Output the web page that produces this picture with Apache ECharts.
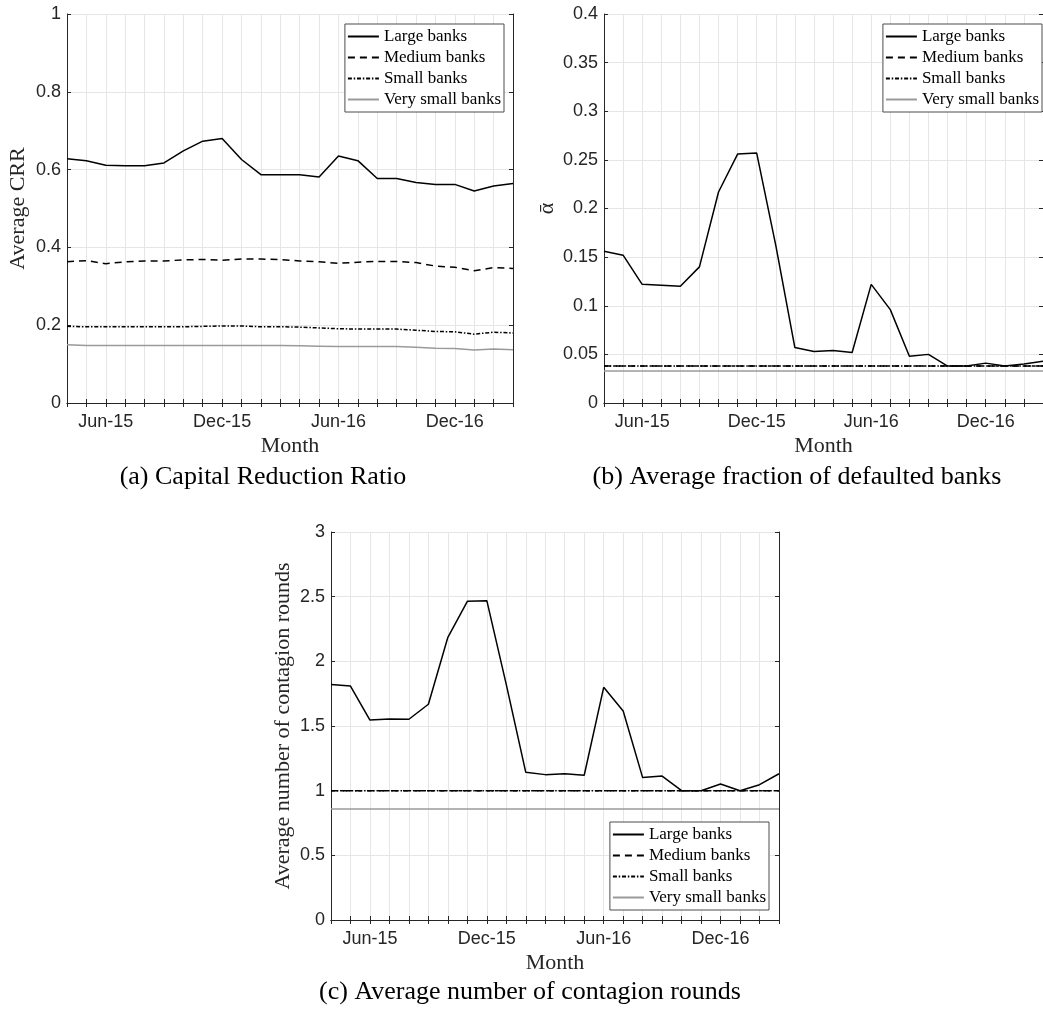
<!DOCTYPE html>
<html>
<head>
<meta charset="utf-8">
<title>Bank contagion simulation by month</title>
<script src="https://cdn.jsdelivr.net/npm/echarts@6/dist/echarts.min.js"></script>
<style>
  html, body { margin: 0; padding: 0; background: #ffffff; }
  #chart { width: 1043px; height: 1013px; }
</style>
</head>
<body>
<div id="chart"></div>
<script>
// Monthly observations, April 2015 to March 2017
const months = ['Apr-15','May-15','Jun-15','Jul-15','Aug-15','Sep-15','Oct-15','Nov-15','Dec-15',
  'Jan-16','Feb-16','Mar-16','Apr-16','May-16','Jun-16','Jul-16','Aug-16','Sep-16','Oct-16','Nov-16','Dec-16',
  'Jan-17','Feb-17','Mar-17'];

const seriesNames = ['Large banks', 'Medium banks', 'Small banks', 'Very small banks'];

// (a) Capital Reduction Ratio
const crrLarge     = [0.628,0.623,0.611,0.610,0.610,0.617,0.648,0.673,0.680,0.626,0.587,0.587,0.587,0.581,0.635,0.623,0.577,0.577,0.567,0.562,0.562,0.545,0.558,0.564];
const crrMedium    = [0.363,0.366,0.358,0.363,0.365,0.365,0.368,0.369,0.367,0.370,0.370,0.369,0.365,0.363,0.359,0.362,0.364,0.364,0.361,0.352,0.349,0.340,0.348,0.346];
const crrSmall     = [0.197,0.196,0.196,0.196,0.196,0.196,0.196,0.197,0.198,0.198,0.196,0.196,0.195,0.193,0.191,0.190,0.190,0.190,0.187,0.184,0.183,0.177,0.182,0.180];
const crrVerySmall = [0.150,0.148,0.148,0.148,0.148,0.148,0.148,0.148,0.148,0.148,0.148,0.148,0.147,0.146,0.145,0.145,0.145,0.145,0.143,0.141,0.140,0.136,0.139,0.137];

// (b) Average fraction of defaulted banks
const alphaLarge     = [0.156,0.152,0.122,0.121,0.120,0.140,0.217,0.256,0.257,0.162,0.057,0.053,0.054,0.052,0.122,0.096,0.048,0.050,0.038,0.038,0.041,0.038,0.040,0.043];
const alphaMedium    = [0.038,0.038,0.038,0.038,0.038,0.038,0.038,0.038,0.038,0.038,0.038,0.038,0.038,0.038,0.038,0.038,0.038,0.038,0.038,0.038,0.038,0.038,0.038,0.038];
const alphaSmall     = [0.038,0.038,0.038,0.038,0.038,0.038,0.038,0.038,0.038,0.038,0.038,0.038,0.038,0.038,0.038,0.038,0.038,0.038,0.038,0.038,0.038,0.038,0.038,0.038];
const alphaVerySmall = [0.033,0.033,0.033,0.033,0.033,0.033,0.033,0.033,0.033,0.033,0.033,0.033,0.033,0.033,0.033,0.033,0.033,0.033,0.033,0.033,0.033,0.033,0.033,0.033];

// (c) Average number of contagion rounds
const roundsLarge     = [1.820,1.809,1.546,1.554,1.552,1.668,2.186,2.464,2.469,1.820,1.142,1.124,1.131,1.119,1.799,1.616,1.101,1.113,1.000,1.000,1.052,1.000,1.046,1.131];
const roundsMedium    = [1,1,1,1,1,1,1,1,1,1,1,1,1,1,1,1,1,1,1,1,1,1,1,1];
const roundsSmall     = [1,1,1,1,1,1,1,1,1,1,1,1,1,1,1,1,1,1,1,1,1,1,1,1];
const roundsVerySmall = [0.858,0.858,0.858,0.858,0.858,0.858,0.858,0.858,0.858,0.858,0.858,0.858,0.858,0.858,0.858,0.858,0.858,0.858,0.858,0.858,0.858,0.858,0.858,0.858];

const AXIS = '#262626';
const GRIDLINE = '#e6e6e6';
const SANS = '"Liberation Sans", Arial, sans-serif';
const SERIF = '"Liberation Serif", "Times New Roman", serif';

// Line appearance for each bank size class
const lineStyles = [
  { color: '#000000', width: 1.5, type: 'solid' },
  { color: '#000000', width: 1.5, type: [7, 5] },
  { color: '#000000', width: 1.5, type: [4, 1.8, 1.5, 1.8] },
  { color: '#9a9a9a', width: 1.5, type: 'solid' }
];

const panels = [
  { grid: { left: 67, top: 14, width: 446, height: 389 }, yMax: 1, yStep: 0.2,
    yName: 'Average CRR', yGap: 38,
    data: [crrLarge, crrMedium, crrSmall, crrVerySmall],
    legend: { right: 539, top: 24 } },
  { grid: { left: 604, top: 14, width: 448, height: 389 }, yMax: 0.4, yStep: 0.05,
    yName: '\u03b1\u0304', yGap: 46,
    data: [alphaLarge, alphaMedium, alphaSmall, alphaVerySmall],
    legend: { right: 1, top: 24 } },
  { grid: { left: 331, top: 532, width: 448, height: 388 }, yMax: 3, yStep: 0.5,
    yName: 'Average number of contagion rounds', yGap: 37,
    data: [roundsLarge, roundsMedium, roundsSmall, roundsVerySmall],
    legend: { right: 274, top: 822 } }
];

const grids = [], xAxes = [], yAxes = [], series = [], legends = [];

panels.forEach((p, i) => {
  grids.push(Object.assign({ containLabel: false }, p.grid));

  // bottom axis with month labels (June and December only)
  xAxes.push({
    gridIndex: i, type: 'category', data: months, boundaryGap: false, position: 'bottom',
    axisLine: { show: true, lineStyle: { color: AXIS, width: 1 } },
    axisTick: { show: true, inside: true, length: 4, interval: 0, lineStyle: { color: AXIS } },
    axisLabel: {
      interval: (idx, val) => /^(Jun|Dec)/.test(val),
      fontFamily: SANS, fontSize: 18, color: AXIS, margin: 10
    },
    splitLine: { show: true, interval: 0, lineStyle: { color: GRIDLINE, width: 1 } },
    name: 'Month', nameLocation: 'middle', nameGap: 32,
    nameTextStyle: { fontFamily: SERIF, fontSize: 22, color: AXIS }
  });
  // top edge of the box, ticks only
  xAxes.push({
    gridIndex: i, type: 'category', data: months, boundaryGap: false, position: 'top',
    axisLine: { show: true, lineStyle: { color: AXIS, width: 1 } },
    axisTick: { show: true, inside: true, length: 4, interval: 0, lineStyle: { color: AXIS } },
    axisLabel: { show: false },
    splitLine: { show: false }
  });

  yAxes.push({
    gridIndex: i, type: 'value', min: 0, max: p.yMax, interval: p.yStep, position: 'left',
    axisLine: { show: true, lineStyle: { color: AXIS, width: 1 } },
    axisTick: { show: true, inside: true, length: 4, lineStyle: { color: AXIS } },
    axisLabel: { fontFamily: SANS, fontSize: 18, color: AXIS, margin: 6 },
    splitLine: { show: true, lineStyle: { color: GRIDLINE, width: 1 } },
    name: p.yName, nameLocation: 'middle', nameGap: p.yGap,
    nameTextStyle: { fontFamily: SERIF, fontSize: 22, color: AXIS }
  });
  // right edge of the box, ticks only
  yAxes.push({
    gridIndex: i, type: 'value', min: 0, max: p.yMax, interval: p.yStep, position: 'right',
    axisLine: { show: true, lineStyle: { color: AXIS, width: 1 } },
    axisTick: { show: true, inside: true, length: 4, lineStyle: { color: AXIS } },
    axisLabel: { show: false },
    splitLine: { show: false }
  });

  p.data.forEach((values, k) => {
    series.push({
      name: seriesNames[k], type: 'line', xAxisIndex: 2 * i, yAxisIndex: 2 * i,
      data: values, symbol: 'none', showSymbol: false, silent: true,
      lineStyle: Object.assign({}, lineStyles[k]),
      itemStyle: { color: lineStyles[k].color },
      z: 10 - k
    });
  });

  // legend keys show only the line sample, no marker
  legends.push({
    data: seriesNames, orient: 'vertical', right: p.legend.right, top: p.legend.top,
    selectedMode: false, backgroundColor: '#ffffff', borderColor: '#4d4d4d', borderWidth: 1,
    padding: [4, 3, 4, 2], itemGap: 4, itemWidth: 31, itemHeight: 14,
    itemStyle: { opacity: 0, borderWidth: 0 },
    textStyle: { fontFamily: SERIF, fontSize: 17, color: '#000000' },
    z: 20
  });
});

const captions = [
  { text: '(a) Capital Reduction Ratio', x: 263, y: 477 },
  { text: '(b) Average fraction of defaulted banks', x: 797, y: 477 },
  { text: '(c) Average number of contagion rounds', x: 530, y: 992 }
];

const chart = echarts.init(document.getElementById('chart'), null, { renderer: 'canvas' });
chart.setOption({
  backgroundColor: '#ffffff',
  animation: false,
  grid: grids,
  xAxis: xAxes,
  yAxis: yAxes,
  legend: legends,
  series: series,
  graphic: captions.map(c => ({
    type: 'text', x: c.x, y: c.y,
    style: { text: c.text, font: '26px ' + SERIF, fill: '#000000', align: 'center', verticalAlign: 'middle' }
  }))
});
</script>
</body>
</html>
